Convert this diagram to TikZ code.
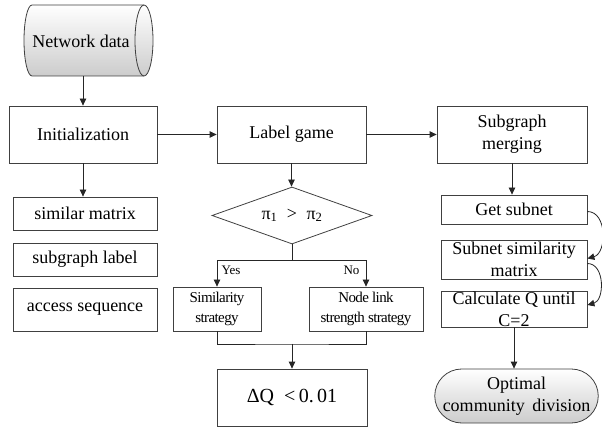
\documentclass[tikz,border=0pt]{standalone}
\usepackage{fontspec}
\setmainfont{Liberation Serif}
\newfontfamily\tightfont{Liberation Serif}[LetterSpace=-4]
\usetikzlibrary{arrows.meta,shapes.geometric,shapes.misc}

\tikzset{
  txt/.style={font=\fontsize{18}{22}\selectfont},
  smalltxt/.style={font=\tightfont\fontsize{15}{20}\selectfont},
  box/.style={draw=black!75, line width=0.8pt, rectangle, inner sep=0pt, align=center, txt},
  arr/.style={draw=black!85, line width=0.8pt, -{Triangle[length=7pt,width=6.5pt]}},
  ln/.style={draw=black!85, line width=0.8pt},
  shade/.style={top color=white, bottom color=black!20},
}

\begin{document}
\begin{tikzpicture}[x=1pt, y=-1pt]
\useasboundingbox (0,0) rectangle (602,427);

% data store drawn as a lying cylinder (y axis points down here)
\path[draw=black!75, line width=0.8pt, shade]
  (32,5) -- (144,5) arc[start angle=-90, end angle=90, x radius=9, y radius=35.5]
  -- (32,76) arc[start angle=90, end angle=270, x radius=8, y radius=35.5] -- cycle;
\draw[draw=black!75, line width=0.8pt]
  (144,5) arc[start angle=-90, end angle=-270, x radius=9, y radius=35.5];
\node[txt] (nd) at (81,41) {Network data};
\coordinate (cylb) at (83,76);

% top row
\node[box, minimum width=148, minimum height=57] (init) at (83,134.5) {Initialization};
\node[box, minimum width=149, minimum height=57] (lg) at (291.5,134.5) {Label game};
\node[box, minimum width=150, minimum height=57] (sm) at (512,134.5) {Subgraph\\merging};

% left column
\node[box, minimum width=144, minimum height=33] (smx) at (85,213.5) {similar matrix};
\node[box, minimum width=144, minimum height=33] (sgl) at (85,259.5) {subgraph label};
\node[box, minimum width=144, minimum height=43] (acc) at (85,309.5) {access sequence};

% middle column
\node[draw=black!75, line width=0.8pt, diamond, aspect=2.8, inner sep=0pt,
      minimum width=160, minimum height=57, txt] (dia) at (292,215.5)
      {π\textsubscript{1} \;>\; π\textsubscript{2}};
\node[box, smalltxt, minimum width=88, minimum height=44] (sim) at (217,309) {Similarity\\strategy};
\node[box, smalltxt, minimum width=114, minimum height=44] (nls) at (366,309) {Node link\\strength strategy};
\node[box, font=\fontsize{20}{24}\selectfont, minimum width=150, minimum height=57] (dq) at (292,397.5)
      {ΔQ \ <\,0.\,01};

% right column
\node[box, minimum width=146, minimum height=29] (gs) at (514,209.5) {Get subnet};
\node[box, minimum width=146, minimum height=39] (ssm) at (514,259.5) {Subnet similarity\\matrix};
\node[box, minimum width=146, minimum height=36] (cq) at (514,309) {Calculate Q until\\C=2};
\node[draw=black!75, line width=0.8pt, rounded rectangle, shade, inner sep=0pt, align=center, txt,
      minimum width=161, minimum height=54] (opt) at (516.5,396) {Optimal\\community\, division};

% connectors
\draw[arr] (cylb) -- (init.north);
\draw[arr] (init.east) -- (lg.west);
\draw[arr] (lg.east) -- (sm.west);
\draw[arr] (init.south) -- (init.south |- smx.north);
\draw[arr] (lg.south) -- (lg.south |- dia.north);

\coordinate (sp) at (292,260);
\draw[ln] (dia.south) -- (sp);
\draw[arr] (sp) -| (sim.north);
\draw[arr] (sp) -| (nls.north);
\node[font=\fontsize{13}{15}\selectfont, anchor=west] (yes) at (218,270) {Yes};
\node[font=\fontsize{13}{15}\selectfont, anchor=east] (no) at (363,270) {No};

\coordinate (mg) at (292,344);
\draw[ln] (sim.south) |- (mg) -| (nls.south);
\draw[arr] (mg) -- (dq.north);

\draw[arr] (sm.south) -- (sm.south |- gs.north);
\draw[arr] ([yshift=-2pt]gs.east) to[out=0, in=15, looseness=1.1] ([yshift=1pt]ssm.east);
\draw[arr] ([yshift=-4pt]ssm.east) to[out=0, in=15, looseness=1.1] ([yshift=4pt]cq.east);
\draw[arr] (cq.south) -- (cq.south |- opt.north);
\end{tikzpicture}
\end{document}
